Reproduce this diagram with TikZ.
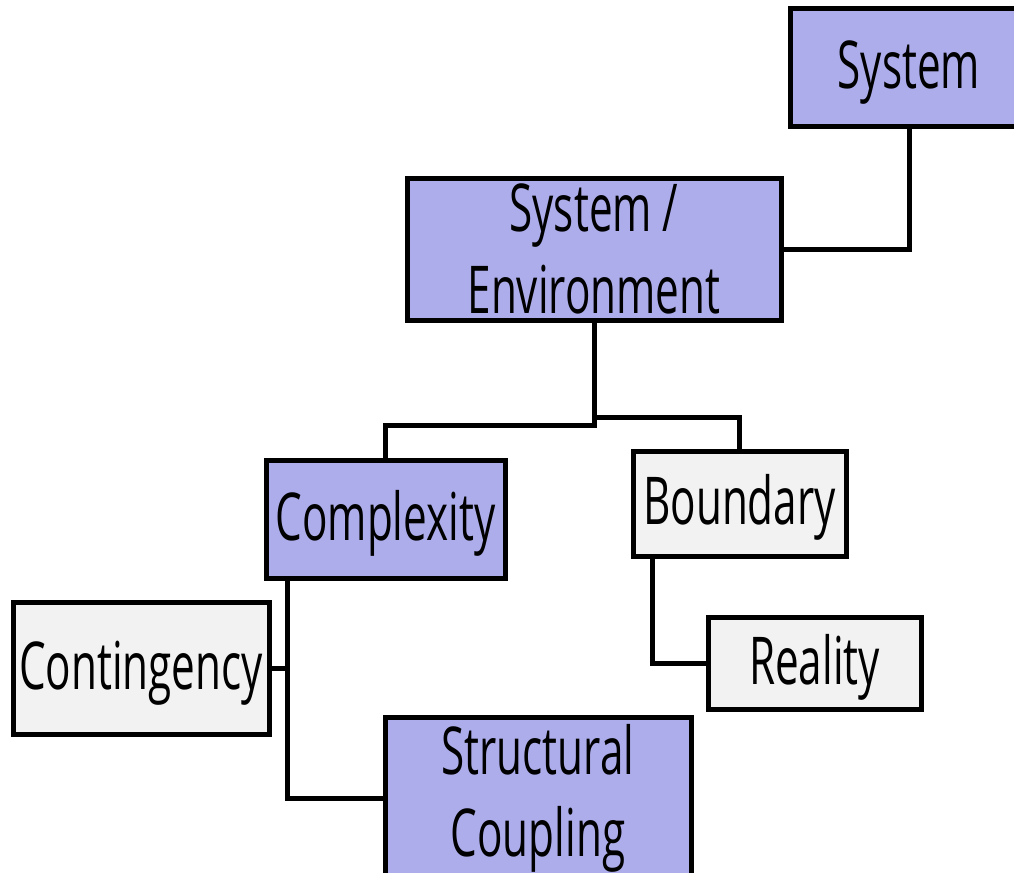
\documentclass[tikz,border=0pt]{standalone}
\usepackage{fontspec}
\setmainfont{Open Sans}[FakeStretch=0.64]
\definecolor{boxpurple}{RGB}{173,173,235}
\definecolor{boxgrey}{RGB}{242,242,242}
\begin{document}
\begin{tikzpicture}[x=0.5pt,y=-0.5pt,
  box/.style={draw=black,line width=2.5pt,rectangle,inner sep=0pt,align=center,
    font=\fontsize{33}{41}\selectfont},
  oneline/.style={text height=27pt,text depth=6pt},
  pbox/.style={box,fill=boxpurple},
  gbox/.style={box,fill=boxgrey},
  link/.style={draw=black,line width=2.5pt}]
\useasboundingbox (0,0) rectangle (1014,873);
\clip (0,0) rectangle (1014,873);
\node[pbox,oneline,minimum width=119pt,minimum height=59pt] (sys) at (909,67) {System};
\node[pbox,minimum width=187pt,minimum height=71pt] (se) at (594,249) {System /\\Environment};
\node[pbox,oneline,minimum width=119.5pt,minimum height=59pt] (cx) at (385.5,519) {Complexity};
\node[gbox,oneline,minimum width=106.5pt,minimum height=52.5pt] (bd) at (739.5,503.5) {Boundary};
\node[gbox,oneline,minimum width=128pt,minimum height=66pt] (ct) at (141,668) {Contingency};
\node[gbox,oneline,minimum width=106.5pt,minimum height=46pt] (re) at (814.5,663) {Reality};
\node[pbox,minimum width=153pt,minimum height=81pt] (sc) at (538,798) {Structural\\Coupling};
\coordinate (j1) at (594,425);
\coordinate (j2) at (594,417);
\coordinate (tr) at (290,668);
\draw[link] (sys.south) |- (se.east);
\draw[link] (se.south) -- (j1) -| (cx.north);
\draw[link] (j2) -| (bd.north);
\draw[link] ([xshift=12pt]cx.south west) |- (sc.west);
\draw[link] (ct.east) -- (tr);
\draw[link] ([xshift=11pt]bd.south west) |- (re.west);
\end{tikzpicture}
\end{document}
